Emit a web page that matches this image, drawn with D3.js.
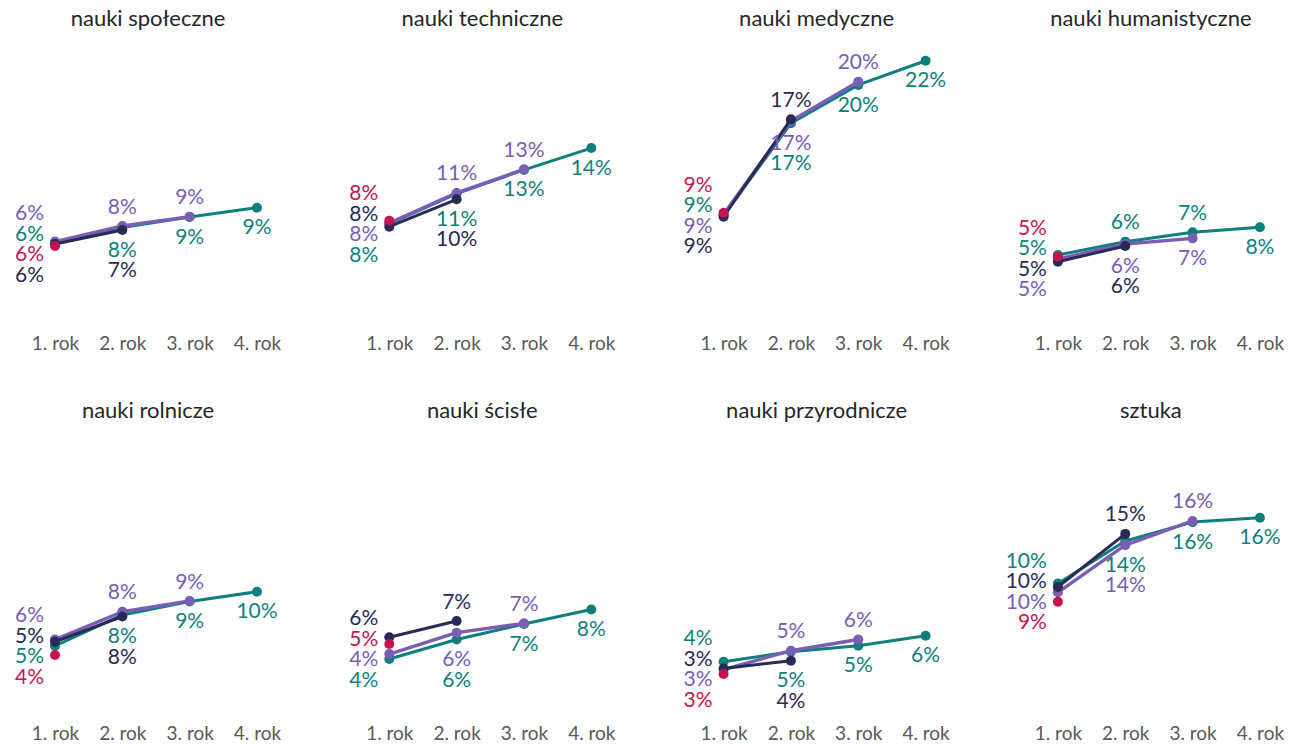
<!DOCTYPE html>
<html><head><meta charset="utf-8">
<script src="https://cdn.jsdelivr.net/npm/d3@7"></script>
<style>
body{margin:0;background:#fff}
svg{display:block}
text{font-family:Lato,"Open Sans",sans-serif}
</style>
</head><body>
<svg id="chart" width="1294" height="745"></svg>
<script>
// ---- data ----
const panels = ["nauki społeczne", "nauki techniczne", "nauki medyczne", "nauki humanistyczne",
                "nauki rolnicze", "nauki ścisłe", "nauki przyrodnicze", "sztuka"];
const years = ["1. rok", "2. rok", "3. rok", "4. rok"];
const seriesKeys = ["kohorta 1", "kohorta 2", "kohorta 3", "kohorta 4"];
// percentages by year of study, one array per panel
const cohort1 = [[6.1], [8.25], [8.92], [5.2], [4.24], [5.17], [2.63], [8.75]];
const cohort2 = [[6.27, 7.46], [7.74, 10.06], [8.58, 16.85], [4.77, 6.1],
                 [5.36, 7.5], [5.74, 7.12], [3.1, 3.75], [10.0, 14.5]];
const cohort3 = [[6.48, 7.8, 8.58], [8.05, 10.6, 12.6], [8.8, 16.7, 20.03], [5.0, 6.27, 6.75],
                 [5.55, 7.9, 8.81], [4.32, 6.13, 6.92], [3.0, 4.6, 5.55], [9.55, 13.55, 15.6]];
const cohort4 = [[6.4, 7.67, 8.56, 9.35], [7.97, 10.55, 12.55, 14.4], [8.7, 16.5, 19.75, 21.8],
                 [5.34, 6.47, 7.26, 7.69], [5.0, 7.63, 8.77, 9.6], [3.9, 5.55, 6.86, 8.1],
                 [3.67, 4.52, 5.03, 5.87], [10.3, 13.9, 15.5, 15.87]];
// order (top to bottom) of the value labels stacked at "1. rok"
const firstYearLabelOrder = [[2,3,0,1],[0,1,2,3],[0,3,2,1],[0,3,1,2],
                             [2,1,3,0],[1,0,2,3],[3,1,2,0],[3,1,2,0]];

// ---- style ----
const colors = ["#C4154F", "#282B55", "#7B5DB6", "#0F7F7E"];
const strokeW = [3, 3, 3.4, 3];
const series = [cohort1, cohort2, cohort3, cohort4];
const drawOrder = [3, 2, 1, 0];

const svg = d3.select("#chart");
const colStep = 334.3, rowBase = [318, 705], rowStep = 391, k = 11.8;
const fmt = v => Math.round(v) + "%";

panels.forEach((title, p) => {
  const col = p % 4, row = Math.floor(p / 4);
  const x = d3.scalePoint().domain(years).range([55 + col * colStep, 257 + col * colStep]);
  const y = d3.scaleLinear().domain([0, 22]).range([rowBase[row], rowBase[row] - 22 * k]);
  const g = svg.append("g");
  const cx = (x(years[0]) + x(years[3])) / 2;

  g.append("text").attr("x", cx - 8).attr("y", 26 + row * 392)
    .attr("text-anchor", "middle").attr("font-size", 22).attr("fill", "#262626").text(title);

  const ax = g.append("g").attr("transform", `translate(0,${333.5 + row * 390})`)
    .call(d3.axisBottom(x).tickSize(0).tickPadding(3));
  ax.select(".domain").remove();
  ax.selectAll("text").attr("font-size", 19).attr("fill", "#595959")
    .style("font-family", "Lato, 'Open Sans', sans-serif");

  const line = d3.line().x((d, i) => x(years[i])).y(d => y(d));
  drawOrder.forEach(s => {
    const vals = series[s][p];
    const sg = g.append("g");
    if (vals.length > 1) {
      sg.append("path").attr("d", line(vals)).attr("fill", "none")
        .attr("stroke", colors[s]).attr("stroke-width", strokeW[s]).attr("stroke-linejoin", "round");
    }
    sg.selectAll("circle").data(vals).join("circle")
      .attr("cx", (d, i) => x(years[i])).attr("cy", d => y(d)).attr("r", 5).attr("fill", colors[s]);
  });

  // labels at 1. rok: stacked to the left
  const order = firstYearLabelOrder[p];
  const meanY = d3.mean(order, s => y(series[s][p][0]));
  order.forEach((s, i) => {
    g.append("text").attr("x", x(years[0]) - 11)
      .attr("y", meanY + (i - (order.length - 1) / 2) * 20.5).attr("dy", "0.36em")
      .attr("text-anchor", "end").attr("font-size", 21).attr("fill", colors[s])
      .text(fmt(series[s][p][0]));
  });

  // labels at later years: highest above, others below
  for (let j = 1; j < years.length; j++) {
    const present = [0, 1, 2, 3].filter(s => series[s][p].length > j)
      .sort((a, b) => series[b][p][j] - series[a][p][j]);
    let below = present;
    if (present.length > 1) {
      const top = present[0];
      g.append("text").attr("x", x(years[j])).attr("y", y(series[top][p][j]) - 20).attr("dy", "0.36em")
        .attr("text-anchor", "middle").attr("font-size", 21).attr("fill", colors[top])
        .text(fmt(series[top][p][j]));
      below = present.slice(1);
    }
    const maxY = d3.max(present, s => y(series[s][p][j]));
    below.forEach((s, i) => {
      g.append("text").attr("x", x(years[j])).attr("y", maxY + 19 + i * 20.5).attr("dy", "0.36em")
        .attr("text-anchor", "middle").attr("font-size", 21).attr("fill", colors[s])
        .text(fmt(series[s][p][j]));
    });
  }
});
</script>
</body></html>
